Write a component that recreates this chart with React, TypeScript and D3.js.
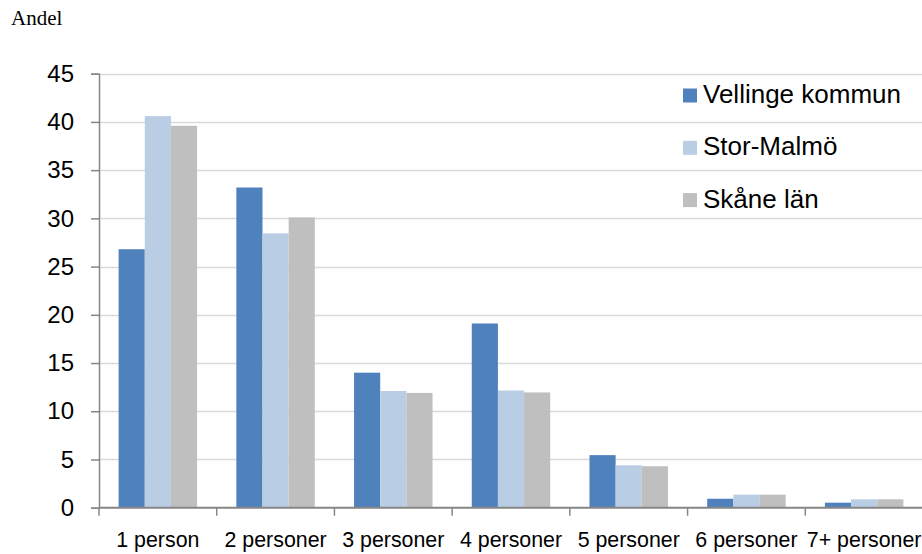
import React, { useEffect, useRef } from "react";
import { axisBottom, axisLeft, scaleBand, scaleLinear, select } from "d3";

const WIDTH = 922;
const HEIGHT = 554;
const PLOT_LEFT = 99;
const PLOT_RIGHT = 923;
const PLOT_TOP = 73.7;
const PLOT_BOTTOM = 507.7;
const AXIS_COLOR = "#868686";
const GRID_COLOR = "#D9D9D9";
const FONT = "'Liberation Sans', Arial, sans-serif";

const categories = [
    "1 person",
    "2 personer",
    "3 personer",
    "4 personer",
    "5 personer",
    "6 personer",
    "7+ personer",
];
const seriesNames = ["Vellinge kommun", "Stor-Malmö", "Skåne län"];
const seriesColors = ["#4F81BD", "#B9CDE5", "#BFBFBF"];
const vellinge = [26.8, 33.2, 14.0, 19.1, 5.45, 0.93, 0.52];
const storMalmo = [40.6, 28.45, 12.1, 12.15, 4.4, 1.35, 0.87];
const skane = [39.6, 30.1, 11.9, 11.95, 4.3, 1.35, 0.87];
const yTicks = [0, 5, 10, 15, 20, 25, 30, 35, 40, 45];

const seriesValues = [vellinge, storMalmo, skane];

export default function App() {
    const svgRef = useRef<SVGSVGElement>(null);

    useEffect(() => {
        const svg = select(svgRef.current);
        svg.selectAll("*").remove();

        const x0 = scaleBand<string>().domain(categories).range([PLOT_LEFT, PLOT_RIGHT]);
        const bw = x0.bandwidth();
        // excel gap width 150%: 3 bars + 1.5 bar gap
        const gap = (bw * 1.5) / 4.5 / 2;
        const x1 = scaleBand<string>().domain(seriesNames).range([gap, bw - gap]);
        const y = scaleLinear().domain([0, 45]).range([PLOT_BOTTOM, PLOT_TOP]);

        svg.append("text")
            .attr("x", 11)
            .attr("y", 25)
            .attr("font-family", "'Liberation Serif', 'Times New Roman', serif")
            .attr("font-size", 21)
            .attr("fill", "#000")
            .text("Andel");

        // gridlines
        svg.append("g")
            .selectAll("line")
            .data(yTicks.filter(t => t > 0))
            .enter()
            .append("line")
            .attr("x1", PLOT_LEFT)
            .attr("x2", PLOT_RIGHT)
            .attr("y1", d => Math.round(y(d)) + 0.5)
            .attr("y2", d => Math.round(y(d)) + 0.5)
            .attr("stroke", GRID_COLOR)
            .attr("stroke-width", 1.5);

        // bars
        const groups = svg
            .append("g")
            .selectAll("g")
            .data(categories)
            .enter()
            .append("g")
            .attr("transform", d => `translate(${x0(d)},0)`);
        groups
            .selectAll("rect")
            .data((_, i) => seriesNames.map((name, s) => ({ name, s, value: seriesValues[s][i] })))
            .enter()
            .append("rect")
            .attr("x", d => x1(d.name) as number)
            .attr("width", x1.bandwidth())
            .attr("y", d => y(d.value))
            .attr("height", d => PLOT_BOTTOM - y(d.value))
            .attr("fill", d => seriesColors[d.s]);

        // y axis
        const yAxis = axisLeft(y).tickValues(yTicks).tickSize(8).tickPadding(17);
        const yAxisGroup = svg.append("g").attr("transform", `translate(${PLOT_LEFT},0)`).call(yAxis);
        yAxisGroup.select(".domain").attr("stroke", AXIS_COLOR).attr("stroke-width", 1.5);
        yAxisGroup.selectAll("line").attr("stroke", AXIS_COLOR).attr("stroke-width", 1.5);
        yAxisGroup
            .selectAll("text")
            .attr("fill", "#000")
            .attr("font-family", FONT)
            .attr("font-size", 24);

        // x axis (labels centred, ticks on category boundaries)
        const xAxis = axisBottom(x0).tickSize(0).tickPadding(23);
        const xAxisGroup = svg.append("g").attr("transform", `translate(0,${PLOT_BOTTOM})`).call(xAxis);
        xAxisGroup.select(".domain").remove();
        xAxisGroup
            .selectAll("text")
            .attr("fill", "#000")
            .attr("font-family", FONT)
            .attr("font-size", 23)
            .attr("transform", "scale(0.93,1)");
        xAxisGroup
            .append("line")
            .attr("x1", PLOT_LEFT)
            .attr("x2", PLOT_RIGHT)
            .attr("stroke", AXIS_COLOR)
            .attr("stroke-width", 2);
        xAxisGroup
            .selectAll(".bound")
            .data(categories)
            .enter()
            .append("line")
            .attr("x1", d => x0(d) as number)
            .attr("x2", d => x0(d) as number)
            .attr("y2", 8)
            .attr("stroke", AXIS_COLOR)
            .attr("stroke-width", 1.5);

        // legend
        const legend = svg
            .append("g")
            .selectAll("g")
            .data(seriesNames)
            .enter()
            .append("g")
            .attr("transform", (_, i) => `translate(683,${88.5 + i * 52.3})`);
        legend
            .append("rect")
            .attr("width", 14)
            .attr("height", 14)
            .attr("fill", (_, i) => seriesColors[i]);
        legend
            .append("text")
            .attr("x", 20)
            .attr("y", 14.5)
            .attr("font-family", FONT)
            .attr("font-size", 26)
            .attr("fill", "#000")
            .text(d => d);
    }, []);

    return (
        <svg
            ref={svgRef}
            width={WIDTH}
            height={HEIGHT}
            style={{ position: "absolute", left: 0, top: 0, background: "#fff" }}
        />
    );
}
